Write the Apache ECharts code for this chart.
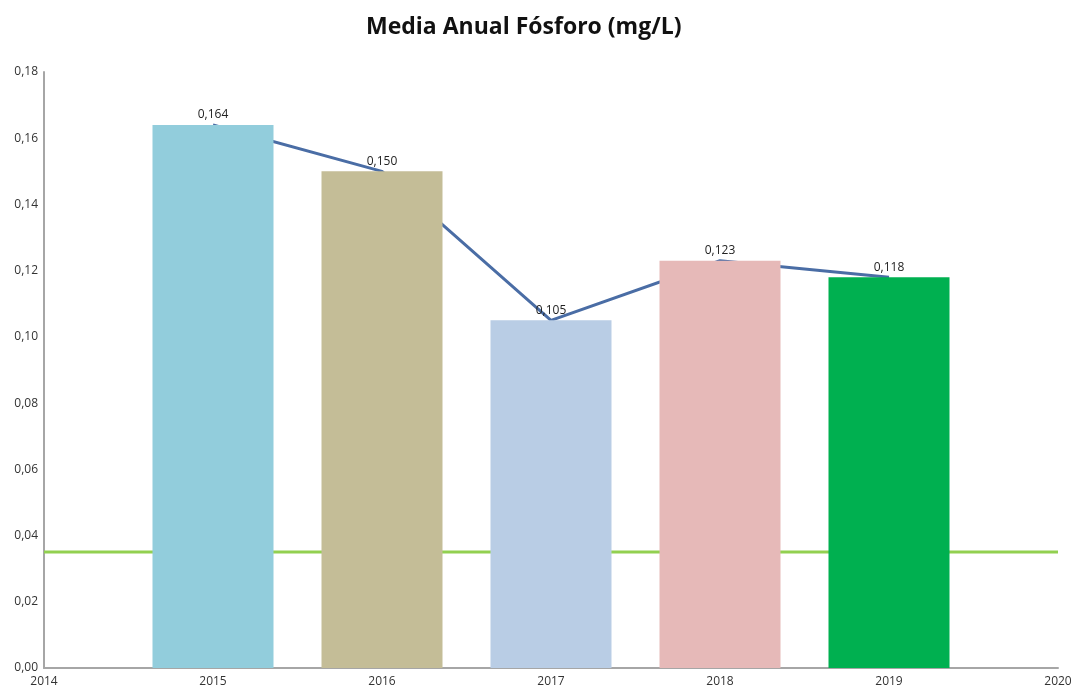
<!DOCTYPE html>
<html>
<head>
<meta charset="utf-8">
<script src="https://cdn.jsdelivr.net/npm/echarts@6/dist/echarts.min.js"></script>
<style>html,body{margin:0;padding:0;background:#fff}#c{width:1075px;height:693px}</style>
</head>
<body>
<div id="c"></div>
<script>
var years = [2015, 2016, 2017, 2018, 2019];
var values = [0.164, 0.150, 0.105, 0.123, 0.118];
var barColors = ['#92CDDC', '#C4BD97', '#B9CDE5', '#E6B9B8', '#00B050'];
var threshold = 0.035;
var xRange = [2014, 2020];
var titleText = 'Media Anual Fósforo (mg/L)';

var fmt = function (v) { return v.toFixed(2).replace('.', ','); };
var barData = years.map(function (y, i) {
  return { value: [y, values[i]], itemStyle: { color: barColors[i] } };
});
var lineData = years.map(function (y, i) { return [y, values[i]]; });

var chart = echarts.init(document.getElementById('c'), null, { renderer: 'canvas' });
chart.setOption({
  animation: false,
  title: {
    text: titleText, left: 361, top: 11,
    textStyle: { fontFamily: 'Open Sans', fontWeight: 'bold', fontSize: 23, color: '#111' }
  },
  grid: { left: 44, right: 17, top: 72, bottom: 25, containLabel: false },
  xAxis: {
    type: 'value', min: xRange[0], max: xRange[1], interval: 1,
    axisLine: { show: true, lineStyle: { color: '#A6A6A6', width: 2 } },
    axisTick: { show: false },
    splitLine: { show: false },
    axisLabel: { color: '#333', fontSize: 12, fontFamily: 'Open Sans', margin: 8, formatter: function (v) { return String(v); } }
  },
  yAxis: {
    type: 'value', min: 0, max: 0.18, interval: 0.02,
    axisLine: { show: true, lineStyle: { color: '#A6A6A6', width: 2 } },
    axisTick: { show: false },
    splitLine: { show: false },
    axisLabel: { color: '#333', fontSize: 12, fontFamily: 'Open Sans', margin: 6, formatter: fmt }
  },
  series: [
    {
      type: 'line', data: [[xRange[0], threshold], [xRange[1], threshold]],
      symbol: 'none', lineStyle: { color: '#92D050', width: 3 }, z: 1, silent: true
    },
    {
      type: 'line', data: lineData, symbol: 'none',
      lineStyle: { color: '#4A6DA5', width: 3 }, z: 1
    },
    {
      type: 'bar', data: barData, barWidth: 121, z: 2,
      label: {
        show: true, position: 'top', distance: 4, color: '#222', fontSize: 12, fontFamily: 'Open Sans',
        formatter: function (p) { return p.value[1].toFixed(3).replace('.', ','); }
      }
    }
  ]
});
</script>
</body>
</html>
